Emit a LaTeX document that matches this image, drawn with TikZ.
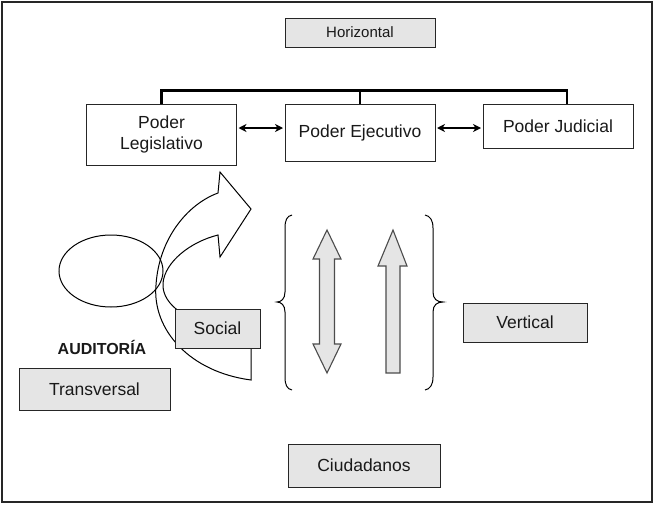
\documentclass[tikz,border=0pt]{standalone}
\usepackage{fontspec}
\setmainfont{Liberation Sans}
\usetikzlibrary{arrows.meta}
\begin{document}
\begin{tikzpicture}[>={Stealth[length=8pt,width=8pt,inset=2.5pt]},x=1pt,y=-1pt,
	caja/.style={draw=black!85,line width=1pt,minimum width=150pt,inner sep=0pt,align=center,font=\fontsize{17.5}{21.5}\selectfont,text=black!90},
	gris/.style={caja,fill=black!10},
	bloque/.style={draw=black!70,fill=black!10,line width=1.1pt,line join=miter}]
	\useasboundingbox (0,0) rectangle (655,506);
	\draw[line width=1.2pt,color=black!85] (2,2) rectangle (652,502);
	% cajas de arriba
	\node[gris,minimum height=29pt,font=\fontsize{15}{18}\selectfont] (hor) at (360,32.5) {Horizontal};
	\node[caja,minimum height=61pt] (leg) at (161.5,134.5) {Poder\\Legislativo};
	\node[caja,minimum height=57pt] (eje) at (360,132.5) {Poder Ejecutivo};
	\node[caja,minimum height=44pt] (jud) at (558,126) {Poder Judicial};
	\draw[line width=2.2pt](leg.north)--++(0,-13)-|([xshift=9pt]jud.north);
	\draw[line width=2.2pt](eje.north)--++(0,-13);
	\draw[<->,line width=2pt,shorten <=1.5pt,shorten >=1.5pt]([yshift=6.5pt]leg.east)--([yshift=6.5pt]leg.east-|eje.west);
	\draw[<->,line width=2pt,shorten <=1.5pt,shorten >=1.5pt]([yshift=4.5pt]eje.east)--([yshift=4.5pt]eje.east-|jud.west);
	% elipse y flecha curva
	\draw[line width=1pt](111,271) ellipse[x radius=52,y radius=36];
	\draw[line width=1pt,line join=miter](251,380) .. controls (190,372) and (152,330) .. (156,285)
		.. controls (159,238) and (188,204) .. (218,193)--(220,172)--(251,209)--(220,257)--(218,235)
		.. controls (190,242) and (165,262) .. (163,283) .. controls (162,295) and (170,305) .. (180,312)
		--(251,342)--cycle;
	\node[gris,minimum width=85pt,minimum height=39pt] (soc) at (217.5,328.5) {Social};
	\node[font=\bfseries\fontsize{16}{19}\selectfont,text=black!90] (aud) at (102,347) {AUDITORÍA};
	\node[gris,minimum width=151pt,minimum height=42pt] (trans) at (94.5,389) {Transversal};
	% llaves
	\draw[line width=1pt](292,215) .. controls (287,216) and (285,220) .. (285,228)--(285,292)
		.. controls (285,299) and (281,302) .. (277,302) .. controls (281,302) and (285,305) .. (285,312)
		--(285,377) .. controls (285,385) and (287,389) .. (292,390);
	\draw[line width=1pt](425,215) .. controls (430,216) and (433,220) .. (433,228)--(433,292)
		.. controls (433,299) and (437,302) .. (443,302) .. controls (437,302) and (433,305) .. (433,312)
		--(433,377) .. controls (433,385) and (430,389) .. (425,390);
	% flechas de bloque
	\draw[bloque](327,230)--(341,259)--(334.5,259)--(334.5,344)--(341,344)--(327,373)--(313,344)
		--(319.5,344)--(319.5,259)--(313,259)--cycle;
	\draw[bloque](393,230)--(407,266)--(400,266)--(400,373)--(386,373)--(386,266)--(378,266)--cycle;
	% cajas de abajo
	\node[gris,minimum width=124pt,minimum height=39pt] (vert) at (525,322.5) {Vertical};
	\node[gris,minimum width=152pt,minimum height=43pt] (ciud) at (364,465.5) {Ciudadanos};
\end{tikzpicture}
\end{document}
